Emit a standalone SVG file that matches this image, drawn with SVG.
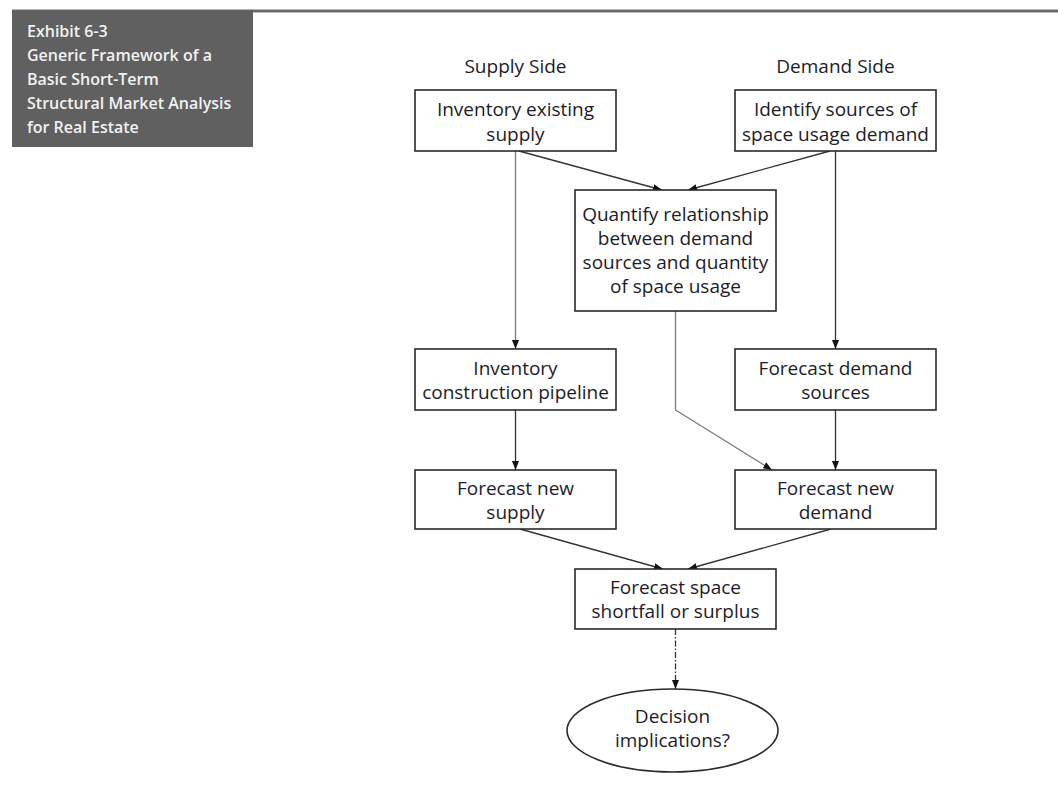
<svg xmlns="http://www.w3.org/2000/svg" width="1058" height="787" viewBox="0 0 1058 787">
<defs>
<style>
.box{fill:#fff;stroke:#2a2a2a;stroke-width:1.6}
.t{font-family:"Open Sans","Noto Sans",sans-serif;font-size:19px;fill:#1c1c28;text-anchor:middle}
.hd{font-family:"Open Sans","Noto Sans",sans-serif;font-size:16px;font-weight:600;fill:#f2f2f2}
.c{fill:none;stroke:#333;stroke-width:1.3}
.cg{fill:none;stroke:#7a7a7a;stroke-width:1.3}
</style>
<marker id="ah" markerWidth="9" markerHeight="7" refX="9" refY="3.5" orient="auto" markerUnits="userSpaceOnUse">
<path d="M0,0 L9,3.5 L0,7 z" fill="#111"/>
</marker>
</defs>
<rect x="0" y="0" width="1058" height="787" fill="#fff"/>
<g id="header">
<line x1="12" y1="11" x2="1058" y2="11" stroke="#6a6a6a" stroke-width="3"/>
<rect x="12" y="10" width="241" height="137" fill="#606060"/>
<text class="hd" x="27" y="37" font-weight="700">Exhibit 6-3</text>
<text class="hd" x="27" y="61">Generic Framework of a</text>
<text class="hd" x="27" y="85">Basic Short-Term</text>
<text class="hd" x="27" y="109">Structural Market Analysis</text>
<text class="hd" x="27" y="133">for Real Estate</text>
</g>
<g id="labels">
<text class="t" x="515.5" y="73">Supply Side</text>
<text class="t" x="835.5" y="73">Demand Side</text>
</g>
<g id="connectors">
<line class="cg" x1="515.5" y1="151" x2="515.5" y2="349" marker-end="url(#ah)"/>
<line class="c" x1="519" y1="151" x2="662" y2="190" marker-end="url(#ah)"/>
<line class="c" x1="830" y1="151" x2="688" y2="190" marker-end="url(#ah)"/>
<line class="c" x1="835.5" y1="151" x2="835.5" y2="349" marker-end="url(#ah)"/>
<line class="c" x1="515.5" y1="410" x2="515.5" y2="470" marker-end="url(#ah)"/>
<line class="c" x1="835.5" y1="410" x2="835.5" y2="470" marker-end="url(#ah)"/>
<polyline class="cg" points="675.5,311 675.5,410 772,470" marker-end="url(#ah)"/>
<line class="c" x1="520" y1="529" x2="663" y2="569" marker-end="url(#ah)"/>
<line class="c" x1="831" y1="529" x2="688" y2="569" marker-end="url(#ah)"/>
<line class="c" x1="675.5" y1="629" x2="675.5" y2="689" stroke-dasharray="6 2 1.5 2" marker-end="url(#ah)"/>
</g>
<g id="inv-existing">
<rect class="box" x="415" y="90" width="201" height="61"/>
<text class="t" x="515.5" y="116">Inventory existing</text>
<text class="t" x="515.5" y="141">supply</text>
</g>
<g id="identify">
<rect class="box" x="735" y="90" width="201" height="61"/>
<text class="t" x="835.5" y="116">Identify sources of</text>
<text class="t" x="835.5" y="141">space usage demand</text>
</g>
<g id="quantify">
<rect class="box" x="575" y="190" width="201" height="121"/>
<text class="t" x="675.5" y="221">Quantify relationship</text>
<text class="t" x="675.5" y="245">between demand</text>
<text class="t" x="675.5" y="269">sources and quantity</text>
<text class="t" x="675.5" y="293">of space usage</text>
</g>
<g id="inv-pipeline">
<rect class="box" x="415" y="349" width="201" height="61"/>
<text class="t" x="515.5" y="375">Inventory</text>
<text class="t" x="515.5" y="399">construction pipeline</text>
</g>
<g id="forecast-demand-sources">
<rect class="box" x="735" y="349" width="201" height="61"/>
<text class="t" x="835.5" y="375">Forecast demand</text>
<text class="t" x="835.5" y="399">sources</text>
</g>
<g id="forecast-new-supply">
<rect class="box" x="415" y="470" width="201" height="59"/>
<text class="t" x="515.5" y="495">Forecast new</text>
<text class="t" x="515.5" y="519">supply</text>
</g>
<g id="forecast-new-demand">
<rect class="box" x="735" y="470" width="201" height="59"/>
<text class="t" x="835.5" y="495">Forecast new</text>
<text class="t" x="835.5" y="519">demand</text>
</g>
<g id="forecast-space">
<rect class="box" x="575" y="569" width="201" height="60"/>
<text class="t" x="675.5" y="594">Forecast space</text>
<text class="t" x="675.5" y="618">shortfall or surplus</text>
</g>
<g id="decision">
<ellipse class="box" cx="672.5" cy="730.5" rx="105.5" ry="41.5"/>
<text class="t" x="672.5" y="723">Decision</text>
<text class="t" x="672.5" y="747">implications?</text>
</g>
</svg>
